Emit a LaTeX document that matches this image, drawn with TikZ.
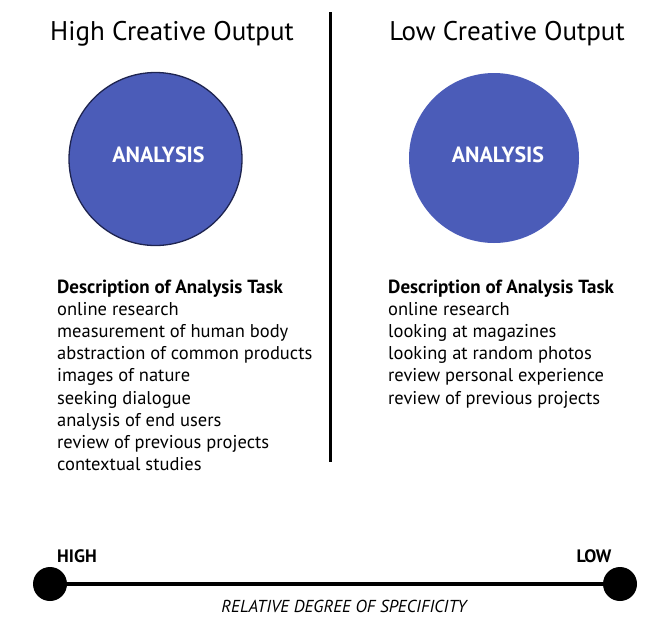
\documentclass[tikz,border=0pt]{standalone}
\usepackage{fontspec}
\setmainfont{PT Sans}
\definecolor{circblue}{RGB}{75,92,184}
\definecolor{navy}{RGB}{30,36,80}
\begin{document}
\begin{tikzpicture}[x=1pt,y=-1pt,
  title/.style={anchor=base, inner sep=0, font=\fontsize{27}{30}\selectfont},
  circ/.style={circle, fill=circblue, minimum size=#1, inner sep=0},
  circlabel/.style={text=white, inner sep=0, font=\bfseries\fontsize{22}{24}\selectfont},
  item/.style={anchor=base west, inner sep=0, font=\fontsize{18.5}{22}\selectfont},
  endlabel/.style={anchor=base, inner sep=0, font=\bfseries\fontsize{18}{20}\selectfont},
  enddot/.style={circle, fill=black, minimum size=34pt, inner sep=0}]
\useasboundingbox (0,0) rectangle (652,629);
% titles
\node[title] (t1) at (172,40) {High Creative Output};
\node[title] (t2) at (507,40) {Low Creative Output};
% divider
\coordinate (vtop) at (330,12);
\coordinate (vbot) at (330,462);
\draw[line width=3pt] (vtop) -- (vbot);
% circles
\node[circ=173pt, draw=navy, line width=1.3pt] (c1) at (155.5,159) {};
\node[circ=170pt] (c2) at (494,158) {};
\node[circlabel] (a1) at (158.5,155) {ANALYSIS};
\node[circlabel] (a2) at (498,155) {ANALYSIS};
% left list
\foreach \t [count=\i] in {{\textbf{\fontsize{19}{22}\selectfont Description of Analysis Task}},online research,measurement of human body,abstraction of common products,images of nature,seeking dialogue,analysis of end users,review of previous projects,contextual studies}
  \node[item] (L\i) at (57,{293+22.2*(\i-1)}) {\t};
% right list
\foreach \t [count=\i] in {{\textbf{\fontsize{19}{22}\selectfont Description of Analysis Task}},online research,looking at magazines,looking at random photos,review personal experience,review of previous projects}
  \node[item] (R\i) at (388,{293+22.2*(\i-1)}) {\t};
% scale
\node[enddot] (hi) at (50,584) {};
\node[enddot] (lo) at (620,584) {};
\draw[line width=4.5pt] (hi) -- (lo);
\node[endlabel] (hl) at (77,562) {HIGH};
\node[endlabel] (ll) at (594,562) {LOW};
\node[anchor=base, inner sep=0, font=\itshape\fontsize{17.3}{20}\selectfont] (rd) at (344,612) {RELATIVE DEGREE OF SPECIFICITY};
\end{tikzpicture}
\end{document}
